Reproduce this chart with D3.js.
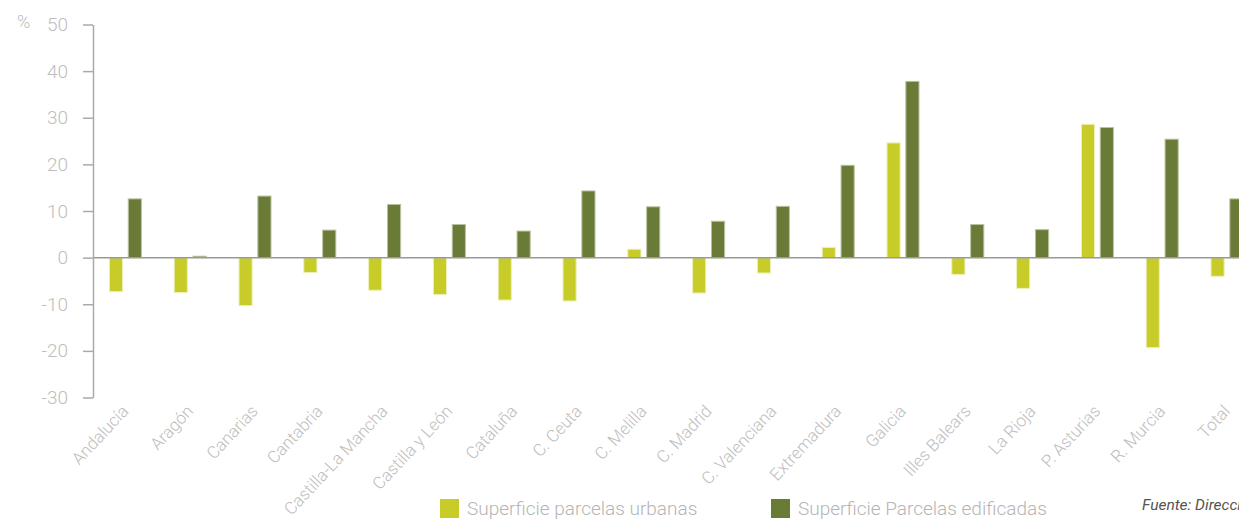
<!DOCTYPE html>
<html>
<head>
<meta charset="utf-8">
<script src="https://cdn.jsdelivr.net/npm/d3@7/dist/d3.min.js"></script>
<style>
  html, body { margin: 0; padding: 0; background: #fff; overflow: hidden; }
  svg { display: block; font-family: Roboto, "Open Sans", sans-serif; }
</style>
</head>
<body>
<svg id="chart" width="1239" height="521"></svg>
<script>
const categories = ["Andalucía","Aragón","Canarias","Cantabria","Castilla-La Mancha","Castilla y León","Cataluña","C. Ceuta","C. Melilla","C. Madrid","C. Valenciana","Extremadura","Galicia","Illes Balears","La Rioja","P. Asturias","R. Murcia","Total"];
const urbanas    = [-7.3, -7.5, -10.3, -3.2, -7.0, -7.9, -9.1, -9.3, 1.8, -7.6, -3.3, 2.2, 24.6, -3.6, -6.6, 28.6, -19.3, -4.0];
const edificadas = [12.6, 0.3, 13.2, 5.9, 11.4, 7.1, 5.7, 14.3, 10.9, 7.8, 11.0, 19.8, 37.8, 7.1, 6.0, 27.9, 25.4, 12.6];
const seriesNames = ["Superficie parcelas urbanas", "Superficie Parcelas edificadas"];
const yTicks = [50, 40, 30, 20, 10, 0, -10, -20, -30];
const source = "Fuente: Dirección General del Catastro";

const colors = ["#c7cc29", "#6a7a37"];
const strokes = ["#eef0b8", "#b9c2a0"];
const textGray = "#bdbdbd";

const svg = d3.select("#chart");
const axisX = 93, plotTop = 24.5, plotBottom = 397.5;
const step = 64.8;

const y = d3.scaleLinear().domain([-30, 50]).range([plotBottom, plotTop]);
const x = d3.scaleBand().domain(categories).range([axisX, axisX + step * categories.length]).padding(0);
const inner = d3.scaleBand().domain([0, 1]).range([0, 33]).paddingInner(0.25);
const groupOffset = (x.bandwidth() - 33) / 2;

// Bars
const data = [urbanas, edificadas];
data.forEach((vals, si) => {
  svg.append("g").selectAll("rect").data(vals).join("rect")
    .attr("x", (d, i) => x(categories[i]) + groupOffset + inner(si) + 0.5)
    .attr("width", inner.bandwidth() - 1)
    .attr("y", d => Math.min(y(d), y(0)))
    .attr("height", d => Math.abs(y(d) - y(0)))
    .attr("fill", colors[si])
    .attr("stroke", strokes[si])
    .attr("stroke-width", 1);
});

// Zero line
svg.append("line")
  .attr("x1", axisX).attr("x2", 1239)
  .attr("y1", y(0)).attr("y2", y(0))
  .attr("stroke", "#999").attr("stroke-width", 1.5);

// Y axis
const yAxis = d3.axisLeft(y).tickValues(yTicks).tickFormat(d => String(d))
  .tickSize(10).tickPadding(15).tickSizeOuter(0);
const gy = svg.append("g").attr("transform", `translate(${axisX},0)`).call(yAxis);
gy.select(".domain").attr("stroke", "#aaa").attr("stroke-width", 1.5);
gy.selectAll(".tick line").attr("stroke", "#aaa").attr("stroke-width", 1.5);
gy.selectAll(".tick text")
  .attr("fill", textGray).style("font-size", "19px").style("font-weight", 300)
  .style("font-family", "Roboto, sans-serif");

svg.append("text").attr("x", 17).attr("y", 28).text("%")
  .attr("fill", textGray).style("font-size", "18px").style("font-weight", 300);

// X labels
svg.append("g").selectAll("text").data(categories).join("text")
  .attr("transform", d => `translate(${x(d) + x.bandwidth() / 2 + 4},${412}) rotate(-47)`)
  .attr("text-anchor", "end")
  .attr("fill", textGray)
  .style("font-size", "17px").style("font-weight", 300)
  .text(d => d);

// Legend
const legendX = [440, 771];
seriesNames.forEach((name, i) => {
  const g = svg.append("g").attr("transform", `translate(${legendX[i]},499)`);
  g.append("rect").attr("width", 19).attr("height", 19).attr("fill", colors[i]);
  g.append("text").attr("x", 27).attr("y", 16).text(name)
    .attr("fill", "#b5b5b5").style("font-size", "19px").style("font-weight", 300);
});

svg.append("text").attr("x", 1142).attr("y", 510).text(source)
  .attr("fill", "#555").style("font-size", "15.5px").style("font-style", "italic");
</script>
</body>
</html>
